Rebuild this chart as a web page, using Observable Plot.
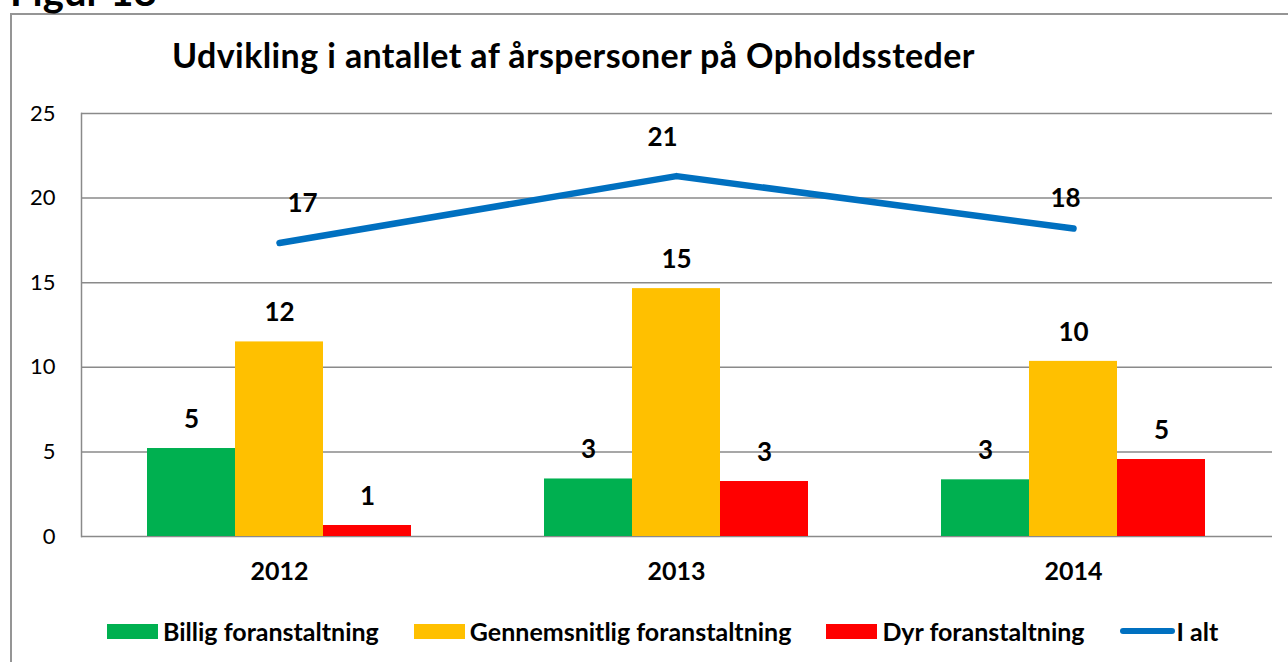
<!DOCTYPE html>
<html><head><meta charset="utf-8">
<script src="https://cdn.jsdelivr.net/npm/d3@7"></script>
<script src="https://cdn.jsdelivr.net/npm/@observablehq/plot@0.6"></script>
<style>
body{margin:0;background:#fff;font-family:Lato,sans-serif;color:#000;}
#page{position:relative;width:1288px;height:662px;overflow:hidden;}
#fig{position:absolute;left:10px;top:-33px;font-size:40px;font-weight:700;white-space:nowrap;}
#box{position:absolute;left:10px;top:13px;width:1290px;height:660px;border:2px solid #959595;box-sizing:border-box;}
#title{position:absolute;left:172px;top:34px;font-size:34px;font-weight:700;letter-spacing:0.4px;white-space:nowrap;}
#chart{position:absolute;left:0;top:90px;}
#legend{position:absolute;left:107px;top:616px;display:flex;align-items:center;font-size:25px;font-weight:700;white-space:nowrap;}
.item{display:flex;align-items:center;margin-right:35px;}
.sw{width:51px;height:15px;margin-right:5px;}
.ln{width:55px;height:6px;border-radius:3px;margin-right:2px;}
</style>
</head><body>
<div id="page">
  <div id="box"></div>
  <div id="fig">Figur 18</div>
  <div id="title">Udvikling i antallet af årspersoner på Opholdssteder</div>
  <div id="chart"></div>
  <div id="legend"></div>
</div>
<script>
const years = ["2012", "2013", "2014"];
const billig = [5.2, 3.4, 3.35];
const gennemsnitlig = [11.5, 14.65, 10.35];
const dyr = [0.65, 3.25, 4.55];
const iAlt = [17.35, 21.3, 18.2];
const seriesNames = ["Billig foranstaltning", "Gennemsnitlig foranstaltning", "Dyr foranstaltning", "I alt"];
const seriesColors = ["#00B050", "#FFC000", "#FF0000", "#0070C0"];
const yTicks = [0, 5, 10, 15, 20, 25];

const rows = years.map((year, i) => ({
  year, billig: billig[i], gennemsnitlig: gennemsnitlig[i], dyr: dyr[i], iAlt: iAlt[i]
}));

const barW = 88;
const labelFont = {fontSize: 26, fontWeight: 700, fontFamily: "Lato", fill: "#000"};
const barKeys = ["billig", "gennemsnitlig", "dyr"];

const marks = [
  Plot.ruleY(yTicks, {stroke: "#8a8a8a", strokeWidth: 1.5}),
  Plot.frame({anchor: "left", stroke: "#8a8a8a", strokeWidth: 1.5})
];
barKeys.forEach((k, j) => {
  marks.push(Plot.barY(rows, {
    x: "year", y: k, fill: seriesColors[j],
    insetLeft: j * barW, insetRight: (2 - j) * barW
  }));
  marks.push(Plot.text(rows, {
    x: "year", y: k, text: d => Math.round(d[k]),
    dx: (j - 1) * barW, dy: -29, ...labelFont
  }));
});
marks.push(Plot.line(rows, {
  x: "year", y: "iAlt", stroke: seriesColors[3], strokeWidth: 6.5,
  strokeLinecap: "round", strokeLinejoin: "round"
}));
const lineLabelOffsets = [[23, -39], [-14, -38], [-8, -30]];
years.forEach((yr, i) => {
  marks.push(Plot.text(rows.filter(d => d.year === yr), {
    x: "year", y: "iAlt", text: d => Math.round(d.iAlt),
    dx: lineLabelOffsets[i][0], dy: lineLabelOffsets[i][1], ...labelFont
  }));
});
marks.push(Plot.axisY({ticks: yTicks, tickSize: 0, tickPadding: 26, fontSize: 22, fontFamily: "Lato", label: null}));
marks.push(Plot.axisX({tickSize: 0, tickPadding: 26, fontSize: 25, fontWeight: 700, fontFamily: "Lato", label: null}));

const chart = Plot.plot({
  width: 1288, height: 510,
  marginTop: 23, marginBottom: 64, marginLeft: 81, marginRight: 16,
  x: {type: "band", domain: years, paddingInner: 0.335, paddingOuter: 0.1675},
  y: {domain: [0, 25]},
  style: {fontFamily: "Lato", color: "#000", background: "transparent", overflow: "visible"},
  marks
});
document.getElementById("chart").appendChild(chart);

const legend = document.getElementById("legend");
seriesNames.forEach((name, i) => {
  const item = document.createElement("div");
  item.className = "item";
  const sw = document.createElement("div");
  sw.className = i === 3 ? "ln" : "sw";
  sw.style.background = seriesColors[i];
  const t = document.createElement("span");
  t.textContent = name;
  item.appendChild(sw); item.appendChild(t);
  legend.appendChild(item);
});
</script>
</body></html>
